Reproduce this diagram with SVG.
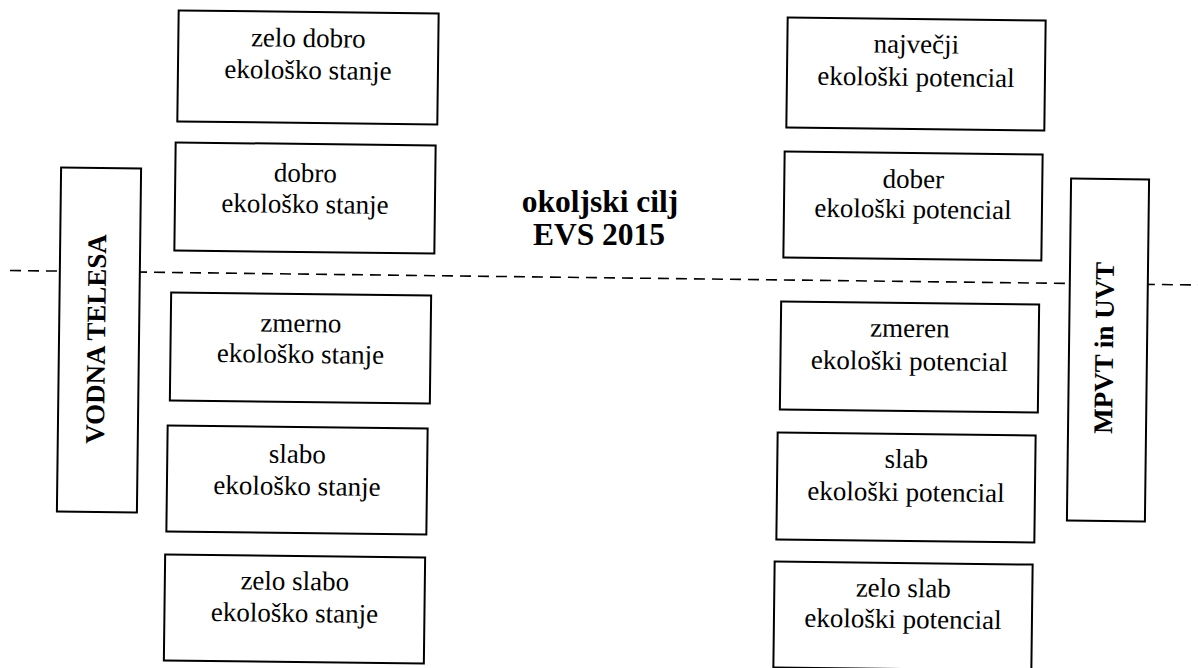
<svg xmlns="http://www.w3.org/2000/svg" width="1198" height="668" viewBox="0 0 1198 668">
<style>
.box{fill:#fff;stroke:#000;stroke-width:2}
.t{font-family:"Liberation Serif","Times New Roman",serif;font-size:27px;fill:#000;text-anchor:middle}
.b{font-family:"Liberation Serif","Times New Roman",serif;font-size:27px;font-weight:bold;fill:#000;text-anchor:middle}
.title{font-size:31.5px}
.dash{stroke:#000;stroke-width:1.6;stroke-dasharray:11 7;fill:none}
</style>
<rect x="0" y="0" width="1198" height="668" fill="#fff"/>
<g id="connectors">
<line class="dash" x1="10" y1="270.5" x2="1198" y2="285"/>
</g>
<g id="title">
<text class="b title" x="600" y="212">okoljski cilj</text>
<text class="b title" x="599" y="245">EVS 2015</text>
</g>
<g id="vodna-telesa" transform="rotate(0.7 99 340)">
<rect class="box" x="59" y="168" width="80" height="344"/>
<text class="b" transform="translate(105 339) rotate(-90)" x="0" y="0">VODNA TELESA</text>
</g>
<g id="mpvt-uvt" transform="rotate(0.7 1108 350)">
<rect class="box" x="1069" y="179" width="78" height="342"/>
<text class="b" transform="translate(1113 348) rotate(-90)" x="0" y="0">MPVT in UVT</text>
</g>
<g id="l1" transform="rotate(0.7 308 67)">
<rect class="box" x="178" y="12" width="260" height="111"/>
<text class="t" x="308" y="47">zelo dobro</text>
<text class="t" x="308" y="79">ekološko stanje</text>
</g>
<g id="l2" transform="rotate(0.7 305 198)">
<rect class="box" x="175" y="144" width="260" height="108"/>
<text class="t" x="305" y="182">dobro</text>
<text class="t" x="305" y="213">ekološko stanje</text>
</g>
<g id="l3" transform="rotate(0.7 300.5 348)">
<rect class="box" x="170.5" y="294" width="260" height="108"/>
<text class="t" x="300.5" y="332">zmerno</text>
<text class="t" x="300.5" y="363">ekološko stanje</text>
</g>
<g id="l4" transform="rotate(0.7 297 480)">
<rect class="box" x="167" y="427" width="260" height="106"/>
<text class="t" x="297" y="463">slabo</text>
<text class="t" x="297" y="495">ekološko stanje</text>
</g>
<g id="l5" transform="rotate(0.7 294.5 609)">
<rect class="box" x="164.5" y="556" width="260" height="106"/>
<text class="t" x="294.5" y="590">zelo slabo</text>
<text class="t" x="294.5" y="622">ekološko stanje</text>
</g>
<g id="r1" transform="rotate(0.7 916 74)">
<rect class="box" x="787" y="19" width="258" height="110"/>
<text class="t" x="916" y="53">največji</text>
<text class="t" x="916" y="86">ekološki potencial</text>
</g>
<g id="r2" transform="rotate(0.7 913 206)">
<rect class="box" x="784" y="153" width="258" height="106"/>
<text class="t" x="913" y="188">dober</text>
<text class="t" x="913" y="218">ekološki potencial</text>
</g>
<g id="r3" transform="rotate(0.7 909.5 357)">
<rect class="box" x="780.5" y="303" width="258" height="108"/>
<text class="t" x="909.5" y="337">zmeren</text>
<text class="t" x="909.5" y="370">ekološki potencial</text>
</g>
<g id="r4" transform="rotate(0.7 906 487.5)">
<rect class="box" x="777" y="434" width="258" height="107"/>
<text class="t" x="906" y="468">slab</text>
<text class="t" x="906" y="501">ekološki potencial</text>
</g>
<g id="r5" transform="rotate(0.7 903 616)">
<rect class="box" x="774" y="563" width="258" height="106"/>
<text class="t" x="903" y="597">zelo slab</text>
<text class="t" x="903" y="628">ekološki potencial</text>
</g>
</svg>
